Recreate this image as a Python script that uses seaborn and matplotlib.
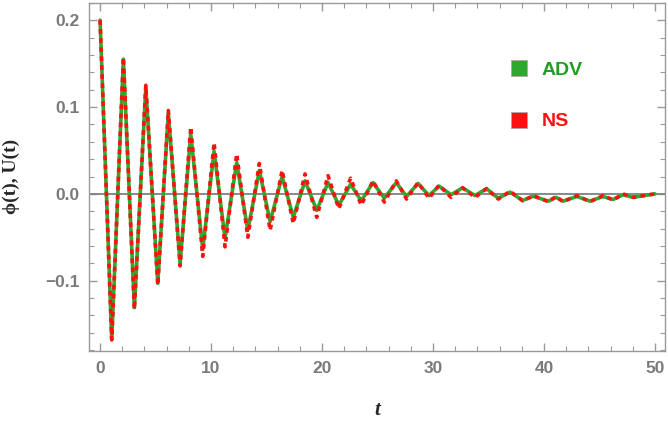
import matplotlib
matplotlib.use("Agg")
import matplotlib.pyplot as plt
from matplotlib.lines import Line2D
from matplotlib.ticker import MultipleLocator, FuncFormatter
import seaborn as sns

# extrema of the two curves
t_adv = [0, 1.05, 2.10, 3.09, 4.12, 5.20, 6.15, 7.21, 8.17, 9.25,
         10.27, 11.26, 12.31, 13.31, 14.35, 15.32, 16.40, 17.41, 18.47, 19.52,
         20.54, 21.51, 22.57, 23.53, 24.59, 25.61, 26.69, 27.61, 28.65, 29.64,
         30.54, 31.62, 32.66, 33.78, 34.82, 35.88, 36.94, 38.08, 39.04, 40.39,
         41.08, 41.71, 42.97, 44.14, 45.32, 46.22, 47.12, 48.02, 50.0]
adv = [0.200, -0.168, 0.155, -0.131, 0.123, -0.103, 0.093, -0.080, 0.069, -0.064,
       0.049, -0.051, 0.036, -0.042, 0.027, -0.032, 0.020, -0.027, 0.015, -0.019,
       0.013, -0.013, 0.011, -0.008, 0.013, -0.005, 0.013, -0.003, 0.012, -0.002,
       0.009, -0.001, 0.007, -0.002, 0.006, -0.005, 0.002, -0.0076, -0.0027, -0.0084,
       -0.004, -0.0084, -0.003, -0.0084, -0.003, -0.0065, -0.001, -0.004, 0.0]

t_ns = t_adv
ns = [0.200, -0.168, 0.157, -0.133, 0.125, -0.105, 0.096, -0.083, 0.077, -0.072,
      0.059, -0.061, 0.046, -0.050, 0.035, -0.042, 0.027, -0.034, 0.023, -0.027,
      0.021, -0.017, 0.018, -0.013, 0.015, -0.0095, 0.015, -0.006, 0.013, -0.005,
      0.010, -0.004, 0.007, -0.004, 0.006, -0.006, 0.003, -0.008, -0.002, -0.009,
      -0.003, -0.009, -0.002, -0.009, -0.002, -0.007, 0.000, -0.004, 0.0]

labels = ["ADV", "NS"]
green = "#2ea82e"
red = "#ff1010"

sns.set_style("ticks")
plt.rcParams['font.family'] = ['Liberation Sans', 'DejaVu Sans']

fig = plt.figure(figsize=(6.68, 4.24), dpi=100)
ax = fig.add_axes([0.1332, 0.172, 0.8623, 0.8214])

ax.axhline(0, color="#808080", lw=1.3, zorder=1)
sns.lineplot(x=t_adv, y=adv, color=green, lw=2.6, ax=ax, zorder=2)
sns.lineplot(x=t_ns, y=ns, color=red, lw=2.6, linestyle=(0, (1.3, 1.2)), ax=ax, zorder=3)

ax.set_xlim(-1, 50.9)
ax.set_ylim(-0.181, 0.22)
ax.xaxis.set_major_locator(MultipleLocator(10))
ax.xaxis.set_minor_locator(MultipleLocator(2))
ax.yaxis.set_major_locator(MultipleLocator(0.1))
ax.yaxis.set_minor_locator(MultipleLocator(0.02))
ax.yaxis.set_major_formatter(FuncFormatter(lambda v, p: ("%.1f" % v).replace("-", "\u2212")))

for s in ax.spines.values():
    s.set_color("#999999")
    s.set_linewidth(1.0)
ax.tick_params(which="both", direction="in", top=True, right=True, color="#999999")
ax.tick_params(which="major", length=6, width=1, labelsize=12.5, labelcolor="#7a7a7a", pad=7)
ax.tick_params(which="minor", length=3.5, width=0.8)
for lbl in ax.get_xticklabels() + ax.get_yticklabels():
    lbl.set_fontweight("bold")

ax.set_ylabel("\u03d5(t), U(t)", fontsize=14, fontweight="bold",
              family=["Liberation Serif", "DejaVu Serif"])
ax.yaxis.set_label_coords(-0.12, 0.5)
ax.set_xlabel("t", fontsize=15, fontweight="bold", fontstyle="italic",
              family=["Liberation Serif", "DejaVu Serif"])
ax.xaxis.set_label_coords(0.5, -0.14)

handles = [Line2D([], [], ls="none", marker="s", markersize=11, markerfacecolor=c,
                  markeredgecolor="#aaaaaa", markeredgewidth=0.6) for c in (green, red)]
ax.legend(handles, labels, loc="upper left", bbox_to_anchor=(0.716, 0.861), frameon=False,
          borderpad=0, handlelength=0.8, handletextpad=0.76, labelspacing=1.76,
          labelcolor=["#1f9e1f", red], prop={"size": 14, "weight": "bold"})

fig.savefig("out.png", dpi=100)
